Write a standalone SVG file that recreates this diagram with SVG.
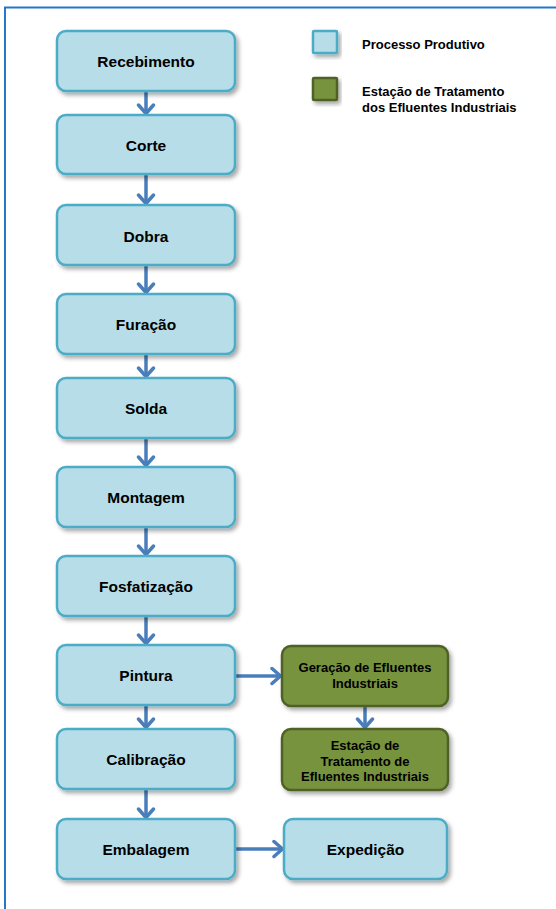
<svg xmlns="http://www.w3.org/2000/svg" width="556" height="909" viewBox="0 0 556 909">
<defs>
<filter id="sh" x="-10%" y="-10%" width="130%" height="140%">
<feDropShadow dx="2.5" dy="3" stdDeviation="2" flood-color="#000" flood-opacity="0.35"/>
</filter>
<marker id="ah" markerUnits="userSpaceOnUse" markerWidth="14" markerHeight="20" viewBox="0 0 14 20" refX="11" refY="10" orient="auto">
<path d="M2,2.5 L10.5,10 L2,17.5" fill="none" stroke="#4a7ebb" stroke-width="3.5" stroke-linecap="round" stroke-linejoin="round"/>
</marker>
<style>
.b{fill:#b7dde8;stroke:#4bacc6;stroke-width:2.5;filter:url(#sh)}
.g{fill:#77933c;stroke:#4f6228;stroke-width:2.5;filter:url(#sh)}
.t{font-family:"Liberation Sans",Arial,sans-serif;font-weight:bold;font-size:15.5px;fill:#000;text-anchor:middle;dominant-baseline:central}
.s{font-family:"Liberation Sans",Arial,sans-serif;font-weight:bold;font-size:13px;fill:#000;text-anchor:middle}
.l{font-family:"Liberation Sans",Arial,sans-serif;font-weight:bold;font-size:13px;fill:#000}
.c{stroke:#4a7ebb;stroke-width:3.5;fill:none;marker-end:url(#ah)}
</style>
</defs>
<rect width="556" height="909" fill="#fff"/>
<rect x="5" y="7.5" width="600" height="1000" fill="none" stroke="#2577c9" stroke-width="2"/>

<g id="legend">
<rect class="b" x="313" y="31" width="24" height="22" rx="1"/>
<text class="l" x="362" y="49">Processo Produtivo</text>
<rect class="g" x="313" y="78" width="24" height="22" rx="1"/>
<text class="l" x="362" y="96">Estação de Tratamento</text>
<text class="l" x="362" y="112">dos Efluentes Industriais</text>
</g>

<g id="connectors">
<line class="c" x1="146" y1="92" x2="146" y2="114"/>
<line class="c" x1="146" y1="175" x2="146" y2="204"/>
<line class="c" x1="146" y1="266" x2="146" y2="293"/>
<line class="c" x1="146" y1="355" x2="146" y2="377"/>
<line class="c" x1="146" y1="439" x2="146" y2="466"/>
<line class="c" x1="146" y1="528" x2="146" y2="555"/>
<line class="c" x1="146" y1="617" x2="146" y2="644"/>
<line class="c" x1="146" y1="706" x2="146" y2="728"/>
<line class="c" x1="146" y1="790" x2="146" y2="818"/>
<line class="c" x1="236" y1="676" x2="281" y2="676"/>
<line class="c" x1="365" y1="707" x2="365" y2="728"/>
<line class="c" x1="236" y1="849" x2="283" y2="849"/>
</g>

<g id="recebimento"><rect class="b" x="57" y="31" width="178" height="60" rx="9"/><text class="t" x="146" y="61">Recebimento</text></g>
<g id="corte"><rect class="b" x="57" y="115" width="178" height="59" rx="9"/><text class="t" x="146" y="145">Corte</text></g>
<g id="dobra"><rect class="b" x="57" y="205" width="178" height="60" rx="9"/><text class="t" x="146" y="236">Dobra</text></g>
<g id="furacao"><rect class="b" x="57" y="294" width="178" height="60" rx="9"/><text class="t" x="146" y="324">Furação</text></g>
<g id="solda"><rect class="b" x="57" y="378" width="178" height="60" rx="9"/><text class="t" x="146" y="408">Solda</text></g>
<g id="montagem"><rect class="b" x="57" y="467" width="178" height="60" rx="9"/><text class="t" x="146" y="497">Montagem</text></g>
<g id="fosfatizacao"><rect class="b" x="57" y="556" width="178" height="60" rx="9"/><text class="t" x="146" y="586">Fosfatização</text></g>
<g id="pintura"><rect class="b" x="57" y="645" width="178" height="60" rx="9"/><text class="t" x="146" y="675">Pintura</text></g>
<g id="calibracao"><rect class="b" x="57" y="729" width="178" height="60" rx="9"/><text class="t" x="146" y="759">Calibração</text></g>
<g id="embalagem"><rect class="b" x="57" y="819" width="178" height="60" rx="9"/><text class="t" x="146" y="849">Embalagem</text></g>
<g id="expedicao"><rect class="b" x="284" y="819" width="163" height="60" rx="9"/><text class="t" x="365.5" y="849">Expedição</text></g>
<g id="geracao"><rect class="g" x="282" y="646" width="166" height="60" rx="9"/><text class="s" x="365" y="672">Geração de Efluentes</text><text class="s" x="365" y="688">Industriais</text></g>
<g id="estacao"><rect class="g" x="282" y="729" width="166" height="61" rx="9"/><text class="s" x="365" y="750">Estação de</text><text class="s" x="365" y="766">Tratamento de</text><text class="s" x="365" y="781">Efluentes Industriais</text></g>
</svg>
